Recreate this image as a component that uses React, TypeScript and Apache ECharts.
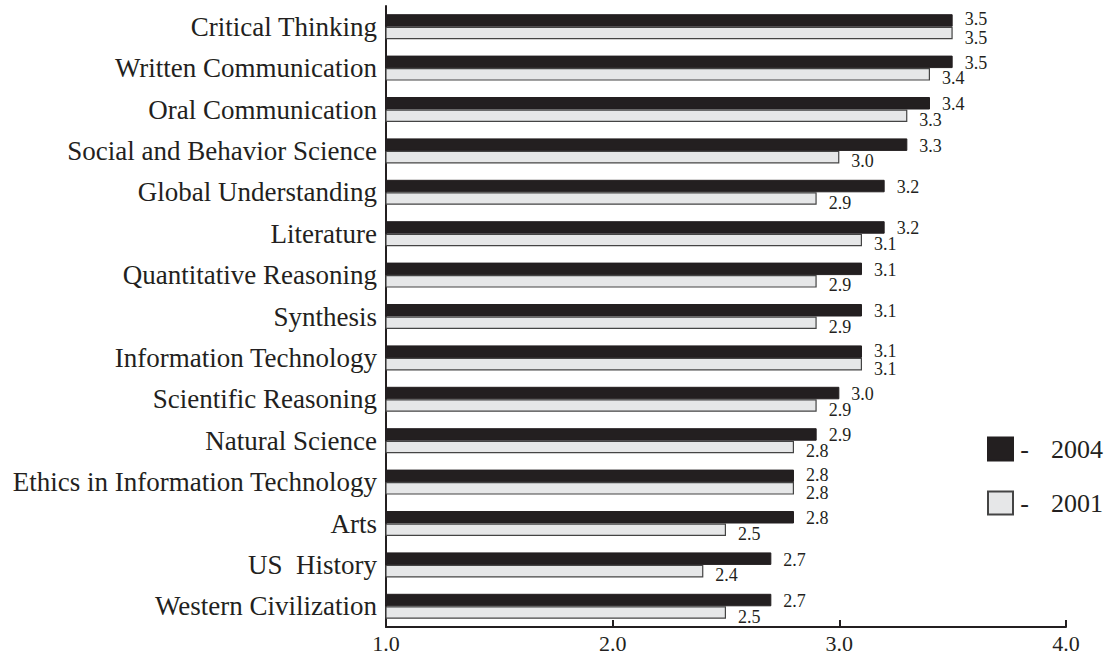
import React, { useEffect, useRef } from "react";
import * as echarts from "echarts";

const categories = [
  "Critical Thinking",
  "Written Communication",
  "Oral Communication",
  "Social and Behavior Science",
  "Global Understanding",
  "Literature",
  "Quantitative Reasoning",
  "Synthesis",
  "Information Technology",
  "Scientific Reasoning",
  "Natural Science",
  "Ethics in Information Technology",
  "Arts",
  "US  History",
  "Western Civilization",
];
const values2004 = [3.5, 3.5, 3.4, 3.3, 3.2, 3.2, 3.1, 3.1, 3.1, 3.0, 2.9, 2.8, 2.8, 2.7, 2.7];
const values2001 = [3.5, 3.4, 3.3, 3.0, 2.9, 3.1, 2.9, 2.9, 3.1, 2.9, 2.8, 2.8, 2.5, 2.4, 2.5];
const seriesNames = ["2004", "2001"];
const xTicks = { min: 1, max: 4, interval: 1 };

const FONT = "'Liberation Serif', 'DejaVu Serif', serif";
const INK = "#231f20";

export default function App() {
  const ref = useRef<HTMLDivElement>(null);
  useEffect(() => {
    if (!ref.current) return;
    const chart = echarts.init(ref.current, undefined, { renderer: "svg" });
    const valueLabel = (dy: number) => ({
      show: true,
      position: "right",
      distance: 12,
      offset: [0, dy],
      formatter: (p: any) => Number(p.value).toFixed(1),
      fontFamily: FONT,
      fontSize: 18,
      lineHeight: 13,
      color: INK,
    });
    // where both years share a value, the two labels stack tightly
    const withOffsets = (vals: number[], other: number[], dyEqual: number) =>
      vals.map((v, i) =>
        v === other[i] ? { value: v, label: { offset: [0, dyEqual] } } : { value: v }
      );
    chart.setOption({
      animation: false,
      backgroundColor: "#ffffff",
      textStyle: { fontFamily: FONT },
      grid: { left: 386, right: 41, top: 6, bottom: 30, containLabel: false },
      legend: {
        orient: "vertical",
        left: 982,
        top: 431,
        itemWidth: 25,
        itemHeight: 23,
        itemGap: 28,
        icon: "rect",
        data: seriesNames,
        formatter: (n: string) => `{a|-}{b|${n}}`,
        textStyle: {
          fontFamily: FONT,
          fontSize: 26,
          color: INK,
          lineHeight: 23,
          rich: {
            a: { fontFamily: FONT, fontSize: 26, color: INK, width: 13, align: "center", lineHeight: 23 },
            b: { fontFamily: FONT, fontSize: 26, color: INK, padding: [0, 0, 0, 20], lineHeight: 23 },
          },
        },
      },
      xAxis: {
        type: "value",
        min: xTicks.min,
        max: xTicks.max,
        interval: xTicks.interval,
        axisLine: { show: true, lineStyle: { color: INK, width: 2 } },
        axisTick: { show: true, inside: true, length: 7, lineStyle: { color: INK, width: 2 } },
        splitLine: { show: false },
        axisLabel: {
          formatter: (v: number) => v.toFixed(1),
          fontFamily: FONT,
          fontSize: 22,
          color: INK,
          margin: 5,
        },
      },
      yAxis: {
        type: "category",
        data: categories,
        inverse: true,
        axisLine: { show: true, lineStyle: { color: INK, width: 2 } },
        axisTick: { show: false },
        axisLabel: { fontFamily: FONT, fontSize: 27, color: INK, margin: 9 },
      },
      series: [
        {
          name: seriesNames[0],
          type: "bar",
          data: withOffsets(values2004, values2001, -1),
          barWidth: 12.5,
          barGap: "0%",
          itemStyle: { color: INK, borderColor: INK, borderWidth: 1 },
          label: valueLabel(1),
        },
        {
          name: seriesNames[1],
          type: "bar",
          data: withOffsets(values2001, values2004, 5),
          barWidth: 12.5,
          barGap: "0%",
          itemStyle: { color: "#e6e7e8", borderColor: "#444444", borderWidth: 1.2 },
          label: valueLabel(4),
        },
      ],
    });
    return () => chart.dispose();
  }, []);
  return (
    <div
      ref={ref}
      style={{ position: "fixed", left: 0, top: 0, width: 1107, height: 657, background: "#fff" }}
    />
  );
}
